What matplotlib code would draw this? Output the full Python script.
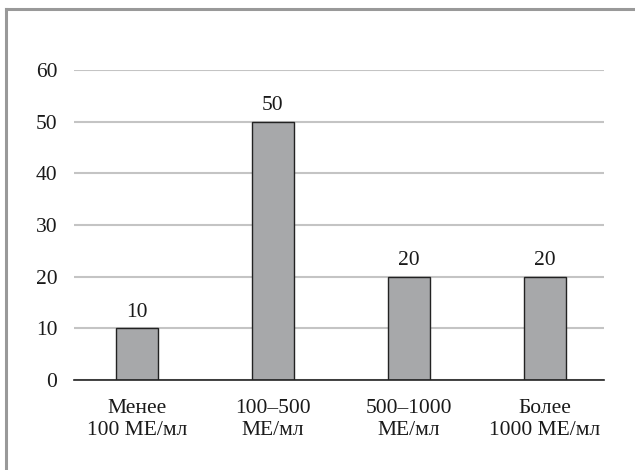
import numpy as np
import matplotlib
matplotlib.use('Agg')
import matplotlib.pyplot as plt
from matplotlib.lines import Line2D

# Данные с диаграммы
категории = ['Менее\n100 МЕ/мл', '100–500\nМЕ/мл', '500–1000\nМЕ/мл', 'Более\n1000 МЕ/мл']
значения = [10, 50, 20, 20]
деления_y = [0, 10, 20, 30, 40, 50, 60]

plt.rcParams['font.family'] = ['Liberation Serif', 'DejaVu Serif']

fig = plt.figure(figsize=(6.35, 4.7), dpi=100)
ax = fig.add_axes([0.1165, 0.1915, 0.8346, 0.6596])

x = np.arange(len(категории))
ax.bar(x, значения, width=0.31, color='#a7a8aa', edgecolor='#222222',
       linewidth=1.0, zorder=3)

# Подписи значений над столбцами
for xi, v in zip(x, значения):
    ax.text(xi, v + 1.3, str(v), ha='center', va='bottom', fontsize=15.5,
            color='#1a1a1a')

ax.set_xlim(-0.463, 3.434)
ax.set_ylim(0, 60)
ax.set_yticks(деления_y)
ax.set_xticks(x)
ax.set_xticklabels(категории, fontsize=15.5, color='#1a1a1a', linespacing=1.15)
ax.tick_params(axis='y', length=0, pad=12, labelsize=15.5, labelcolor='#1a1a1a')
ax.tick_params(axis='x', length=0, pad=14)

ax.grid(axis='y', color='#c4c4c4', linewidth=1.5, zorder=0)
for s in ['top', 'right', 'left']:
    ax.spines[s].set_visible(False)
ax.spines['bottom'].set_color('#222222')
ax.spines['bottom'].set_linewidth(1.2)
ax.spines['bottom'].set_zorder(4)

# Рамка сверху и слева
fig.add_artist(Line2D([6 / 635, 1], [1 - 9 / 470, 1 - 9 / 470],
                      transform=fig.transFigure, color='#999999', linewidth=2.2))
fig.add_artist(Line2D([6 / 635, 6 / 635], [0, 1 - 9 / 470],
                      transform=fig.transFigure, color='#999999', linewidth=2.2))

fig.savefig('out.png', dpi=100)
